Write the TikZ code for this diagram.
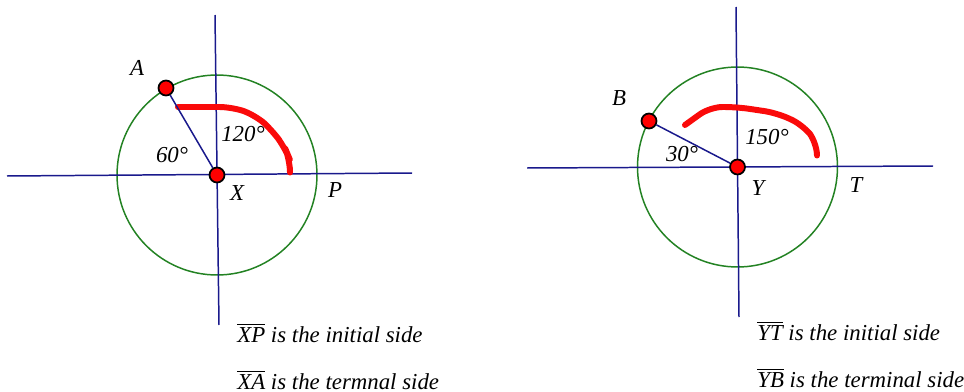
\documentclass[tikz,border=0pt]{standalone}
\usepackage{fontspec}
\setmainfont{Liberation Serif}
\newfontfamily\timesit{Liberation Serif}[ItalicFont={* Italic}]
\usetikzlibrary{positioning}
\definecolor{axisblue}{RGB}{25,25,140}
\definecolor{ringgreen}{RGB}{35,130,35}
\definecolor{markred}{RGB}{250,10,10}

\begin{document}
\begin{tikzpicture}[
  x=0.02cm, y=-0.02cm,
  axis/.style={draw=axisblue, line width=0.85pt},
  ring/.style={draw=ringgreen, line width=0.85pt},
  dot/.style={circle, fill=red, draw=black, line width=1pt, minimum size=0.3cm, inner sep=0pt},
  sweep/.style={draw=markred, line width=3.4pt, line join=round, line cap=round, rounded corners=0.25cm},
  lbl/.style={font=\timesit\fontsize{13}{15}\selectfont\itshape, inner sep=0pt},
  note/.style={font=\timesit\fontsize{13}{15}\selectfont\itshape, anchor=base west, inner sep=0pt}
]
\useasboundingbox (0,0) rectangle (964,392);

% left angle, vertex X
\coordinate (xl) at (7,176);
\coordinate (xr) at (412,173);
\coordinate (xt) at (215,15);
\coordinate (xb) at (219,325);
\draw[ring] (217,175) circle [radius=2cm];
\draw[axis] (xl) -- (xr);
\draw[axis] (xt) -- (xb);
\draw[sweep] (178,107) -- (232,107) -- (255,115) -- (272,130) -- (285,148) -- (290,160) -- (290,168);
\node[dot] (X) at (217,175) {};
\node[dot] (A) at (166,88) {};
\draw[axis] (A) -- (X);
\node[lbl] (labA) at (137,68) {A};
\node[lbl] (ang60) at (172,155) {60°};
\node[lbl] (ang120) at (243,134) {120°};
\node[lbl] (labX) at (237,193) {X};
\node[lbl] (labP) at (335,190) {P};
\node[note] (initX) at (237,342) {$\overline{\mbox{\timesit\itshape XP}}$ is the initial side};
\node[note] (termX) at (237,389) {$\overline{\mbox{\timesit\itshape XA}}$ is the termnal side};

% right angle, vertex Y
\coordinate (yl) at (527,168);
\coordinate (yr) at (933,166);
\coordinate (yt) at (736,7);
\coordinate (yb) at (739,317);
\draw[ring] (737.5,167) circle [radius=2cm];
\draw[axis] (yl) -- (yr);
\draw[axis] (yt) -- (yb);
\draw[sweep] (685,125) -- (710,107) -- (737,107) -- (777,113) -- (803,125) -- (817,143) -- (817,155);
\node[dot] (Y) at (737.5,167) {};
\node[dot] (B) at (649,121) {};
\draw[axis] (B) -- (Y);
\node[lbl] (labB) at (619,98) {B};
\node[lbl] (ang30) at (682,154) {30°};
\node[lbl] (ang150) at (767,137) {150°};
\node[lbl] (labY) at (758,188) {Y};
\node[lbl] (labT) at (856,185) {T};
\node[note] (initY) at (757,340) {$\overline{\mbox{\timesit\itshape YT}}$ is the initial side};
\node[note] (termY) at (757,387) {$\overline{\mbox{\timesit\itshape YB}}$ is the terminal side};
\end{tikzpicture}
\end{document}
